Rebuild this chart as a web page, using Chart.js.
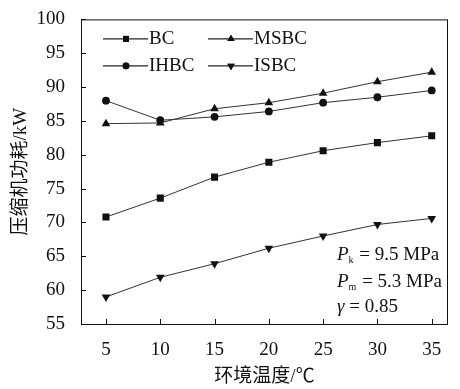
<!DOCTYPE html>
<html>
<head>
<meta charset="utf-8">
<script src="https://cdn.jsdelivr.net/npm/chart.js@4.4.1/dist/chart.umd.min.js"></script>
<style>
  html, body { margin: 0; padding: 0; background: #fff; }
  #wrap { width: 460px; height: 389px; }
</style>
</head>
<body>
<div id="wrap"><canvas id="chart"></canvas></div>
<script>
// ambient temperature (°C)
const temps = [5, 10, 15, 20, 25, 30, 35];
// compressor power (kW)
const bc   = [70.8, 73.6, 76.7, 78.9, 80.6, 81.8, 82.8];
const msbc = [84.6, 84.7, 86.8, 87.7, 89.1, 90.8, 92.2];
const ihbc = [88.0, 85.1, 85.6, 86.4, 87.7, 88.5, 89.5];
const isbc = [59.0, 61.9, 63.9, 66.2, 68.0, 69.7, 70.6];
const xTicks = [5, 10, 15, 20, 25, 30, 35];
const yTicks = [55, 60, 65, 70, 75, 80, 85, 90, 95, 100];

const SERIF = "'Liberation Serif', 'Times New Roman', serif";
const CJK = "'Liberation Serif', 'Noto Sans CJK SC', serif";
const INK = '#111';

function pts(ys) { return temps.map((x, i) => ({ x, y: ys[i] })); }

function series(label, ys, style, radius, rotation) {
  return {
    label, data: pts(ys),
    borderColor: '#333', borderWidth: 1,
    pointStyle: style, pointRadius: radius, pointRotation: rotation || 0,
    pointBackgroundColor: INK, pointBorderColor: INK, pointBorderWidth: 0,
    tension: 0,
  };
}

// frame, inward ticks, legend and parameter notes
const decor = {
  id: 'decor',
  afterDraw(chart) {
    const { ctx, chartArea: a, scales: { x, y } } = chart;
    ctx.save();
    ctx.strokeStyle = INK;
    ctx.lineWidth = 1;
    ctx.strokeRect(a.left + 0.5, a.top + 0.5, a.right - a.left - 1, a.bottom - a.top);
    ctx.beginPath();
    xTicks.forEach(v => {
      const px = Math.round(x.getPixelForValue(v)) + 0.5;
      ctx.moveTo(px, a.bottom); ctx.lineTo(px, a.bottom - 5);
    });
    yTicks.forEach(v => {
      const py = Math.round(y.getPixelForValue(v)) + 0.5;
      ctx.moveTo(a.left, py); ctx.lineTo(a.left + 5, py);
    });
    ctx.stroke();

    // legend: 2 columns
    const cols = [a.left + 22, a.left + 127];
    const rows = [a.top + 19, a.top + 46];
    chart.data.datasets.forEach((ds, i) => {
      const lx = cols[i % 2], ly = rows[Math.floor(i / 2)];
      ctx.strokeStyle = '#222';
      ctx.lineWidth = 1.4;
      ctx.beginPath();
      ctx.moveTo(lx, ly + 0.5); ctx.lineTo(lx + 45, ly + 0.5);
      ctx.stroke();
      ctx.fillStyle = INK;
      Chart.helpers.drawPoint(ctx, {
        pointStyle: ds.pointStyle, radius: ds.pointRadius * 0.85,
        rotation: ds.pointRotation, borderWidth: 0,
      }, lx + 23, ly + 0.5);
      ctx.fill();
      ctx.font = '19px ' + SERIF;
      ctx.textBaseline = 'middle';
      ctx.textAlign = 'left';
      ctx.fillText(ds.label, lx + 46, ly + 1);
    });

    // parameter notes
    ctx.fillStyle = INK;
    ctx.textBaseline = 'alphabetic';
    const nx = 337;
    const note = (sub, rest, by) => {
      ctx.font = 'italic 19px ' + SERIF;
      ctx.fillText('P', nx, by);
      let w = ctx.measureText('P').width;
      ctx.font = '10px ' + SERIF;
      ctx.fillText(sub, nx + w, by + 3);
      w += ctx.measureText(sub).width + 1;
      ctx.font = '19px ' + SERIF;
      ctx.fillText(rest, nx + w, by);
    };
    note('k', ' = 9.5 MPa', 260);
    note('m', ' = 5.3 MPa', 287);
    ctx.font = 'italic 19px ' + SERIF;
    ctx.fillText('γ', nx, 312);
    const gw = ctx.measureText('γ').width;
    ctx.font = '19px ' + SERIF;
    ctx.fillText(' = 0.85', nx + gw, 312);
    ctx.restore();
  }
};

new Chart(document.getElementById('chart'), {
  type: 'line',
  data: {
    datasets: [
      series('BC', bc, 'rect', 5),
      series('MSBC', msbc, 'triangle', 5),
      series('IHBC', ihbc, 'circle', 3.9),
      series('ISBC', isbc, 'triangle', 5, 180),
    ],
  },
  options: {
    responsive: true,
    maintainAspectRatio: false,
    animation: false,
    layout: { padding: { top: 16, right: 12, left: 0, bottom: 0 } },
    plugins: { legend: { display: false }, tooltip: { enabled: false } },
    scales: {
      x: {
        type: 'linear', min: 2.7, max: 36.5,
        afterBuildTicks: s => { s.ticks = xTicks.map(v => ({ value: v })); },
        afterFit: s => { s.height = 65; },
        grid: { display: false },
        border: { display: false },
        ticks: { color: INK, padding: 7, font: { family: SERIF, size: 19 } },
        title: {
          display: true, text: '环境温度/℃', color: INK,
          padding: { top: 0, bottom: 1 }, font: { family: CJK, size: 19 },
        },
      },
      y: {
        type: 'linear', min: 55, max: 100,
        afterBuildTicks: s => { s.ticks = yTicks.map(v => ({ value: v })); },
        afterFit: s => { s.width = 81; },
        grid: { display: false },
        border: { display: false },
        ticks: { color: INK, padding: 8, font: { family: SERIF, size: 19 } },
        title: {
          display: true, text: '压缩机功耗/kW', color: INK,
          padding: { top: 10, bottom: 0 }, font: { family: CJK, size: 19 },
        },
      },
    },
  },
  plugins: [decor],
});
</script>
</body>
</html>
